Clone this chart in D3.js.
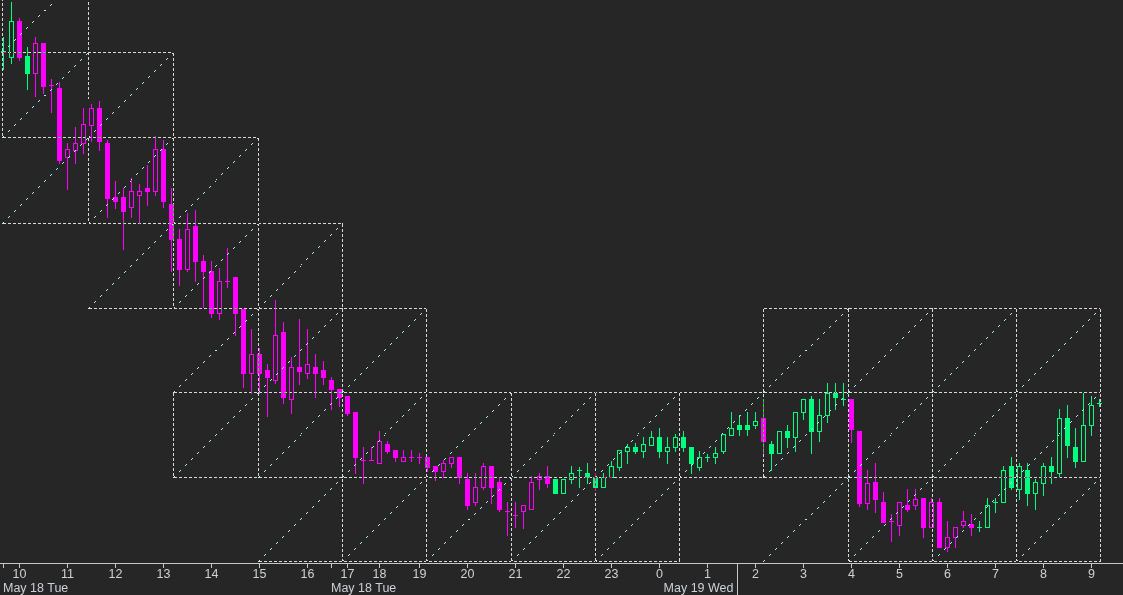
<!DOCTYPE html>
<html><head><meta charset="utf-8">
<script src="https://cdn.jsdelivr.net/npm/d3@7"></script>
<style>
html,body{margin:0;padding:0;background:#262626;}
svg{display:block;}
</style></head><body>
<svg id="chart" width="1123" height="595"></svg>
<script>
// ---------- DATA (10-minute bars, price in index points) ----------
const openP = [548,543,579,544,527,557,515,512,443,450,
457,475,492,457,403,403,393,405,412,409,
451,396,361,331,374,339,329,287,319,323,
291,227,246,230,220,268,201,233,227,233,
230,220,211,204,188,140,140,137,156,150,
139,143,143,143,134,129,137,143,121,98,
113,134,118,89,85,89,91,121,124,121,
107,121,130,127,123,113,123,133,149,153,
149,155,163,149,153,163,153,133,143,143,
149,165,175,175,175,182,156,147,169,163,
188,201,169,185,207,201,201,169,97,118,
98,79,75,95,95,102,73,98,53,63,
75,76,73,73,98,98,134,111,130,107,
117,134,127,182,153,139,175,197];
const highP = [563,598,582,553,563,557,521,518,457,473,
492,496,499,460,419,412,422,416,435,464,
460,412,371,387,390,345,339,332,352,323,
291,271,252,236,300,278,243,281,271,246,
239,223,211,204,188,153,153,169,159,150,
150,150,147,143,134,140,143,143,127,127,
137,134,123,98,98,95,124,127,134,121,
121,134,133,137,127,127,139,150,156,157,
163,169,172,163,166,169,153,149,146,153,
166,188,185,188,188,201,159,169,175,188,
201,204,201,217,217,217,201,169,130,137,
108,86,98,111,111,102,102,102,79,73,
89,86,79,102,102,134,143,137,137,121,
137,143,191,195,172,207,204,201];
const lowP = [531,537,540,511,504,507,488,437,411,437,
447,459,450,383,392,351,383,377,395,405,
393,329,315,329,319,293,283,281,313,265,
213,207,207,184,217,197,187,216,222,203,
216,191,194,185,127,117,140,137,147,139,
139,139,137,129,120,123,133,117,91,95,
111,97,89,65,73,72,91,111,113,107,
107,117,113,117,110,113,123,130,137,147,
143,155,143,137,149,149,127,130,139,137,
147,165,165,165,172,147,130,147,153,149,
181,147,159,178,191,195,158,94,91,88,
78,59,65,89,91,63,73,53,49,53,
73,65,69,73,88,98,111,101,95,91,
105,117,123,143,133,139,165,194];
const closeP = [549,579,543,527,557,514,515,440,451,457,
476,492,459,402,399,389,409,409,409,451,
399,361,331,371,339,329,287,319,319,287,
227,246,227,223,265,203,233,229,236,227,
223,211,203,187,143,140,140,159,149,143,
143,143,143,133,129,137,143,123,95,113,
134,113,91,89,85,95,118,124,117,107,
121,127,130,123,113,123,134,150,153,149,
156,163,149,153,163,153,137,143,143,147,
166,172,171,171,179,159,147,169,163,188,
201,169,185,207,203,201,171,97,117,101,
78,79,98,91,101,73,98,53,63,73,
79,73,73,95,98,130,113,134,107,118,
134,129,182,155,139,175,195,197];
// trend colouring runs: [firstBar, lastBar, direction]
const trendRuns = [[0,1,"up"],[2,2,"dn"],[3,3,"up"],[4,68,"dn"],[69,94,"up"],[95,95,"dn"],[96,105,"up"],[106,121,"dn"],[122,137,"up"]];

// time axis (bar index of each tick and its hour label)
const tickBars   = [0,2,8,14,20,26,32,38,41,43,47,52,58,64,70,76,82,88,94,100,106,112,118,124,130,136];
const tickLabels = ["","10","11","12","13","14","15","16","","17","18","19","20","21","22","23","0","1","2","3","4","5","6","7","8","9"];
const dateLabels = ["May 18 Tue","May 18 Tue","May 19 Wed"];
const dateBars   = [0,41,91.75];
const dateAlign  = ["start","start","end"];
const daySeparatorBar = 91.75;

// Gann box grid: time (bar) of each vertical, price of each level
const gridTimes  = [-0.125,10.625,21.25,31.875,42.375,52.875,63.5,74,84.5,95,105.625,116.125,126.625,137.125];
const gridLevels = [632.5,547.5,462.5,376.5,291.5,207.5,122.5,38.5];
// vertical runs: [timeIndex, fromPrice, toPrice]
const gridVRuns = [[0,632.5,462.5],[1,632.5,500],[1,462.5,376.5],[2,547.5,291.5],[2,207.5,122.5],[3,462.5,122.5],
  [4,376.5,38.5],[5,291.5,38.5],[6,207.5,38.5],[7,207.5,38.5],[8,207.5,38.5],[9,291.5,122.5],
  [10,291.5,38.5],[11,291.5,38.5],[12,291.5,38.5],[13,291.5,38.5]];
// horizontal runs: [levelIndex, fromTime, toTime]
const gridHRuns = [[1,0,2],[2,0,3],[3,0,4],[4,1,5],[4,9,13],[5,2,13],[6,2,13],[7,3,8],[7,10,13]];
// cells carrying a 45-degree line: [timeIndex, upperLevel]
const diagCells = [[0,0],[0,1],[1,1],[0,2],[1,2],[2,2],[1,3],[2,3],[3,3],
  [2,4],[3,4],[4,4],[9,4],[10,4],[11,4],[12,4],
  [2,5],[3,5],[4,5],[5,5],[6,5],[7,5],[8,5],[9,5],[10,5],[11,5],[12,5],
  [3,6],[4,6],[5,6],[6,6],[7,6],[9,6],[10,6],[11,6],[12,6]];

// ---------- DRAW ----------
const W = 1123, H = 595;
const BG = "#262626", MAG = "#ff00ff", GRN = "#00ff7f";
const FONT = "Liberation Sans, Arial, sans-serif";
const svg = d3.select("#chart");
svg.append("rect").attr("width", W).attr("height", H).attr("fill", BG);

const x = d3.scaleLinear().domain([0, 137]).range([3.5, 1099.5]);
const y = d3.scaleLinear().domain([600, 0]).range([0, 600]);

const bars = d3.range(openP.length).map(i => {
  const run = trendRuns.find(r => i >= r[0] && i <= r[1]);
  return {i, o: openP[i], h: highP[i], l: lowP[i], c: closeP[i], col: run && run[2] === "up" ? GRN : MAG};
});

const gC = svg.append("g").attr("shape-rendering", "crispEdges");
bars.forEach(b => {
  const cx = x(b.i);
  const yh = Math.round(y(b.h)), yl = Math.round(y(b.l));
  gC.append("line").attr("x1", cx).attr("x2", cx).attr("y1", yh).attr("y2", yl + 1)
    .attr("stroke", b.col).attr("stroke-width", 1);
  const top = Math.round(y(Math.max(b.o, b.c))), bot = Math.round(y(Math.min(b.o, b.c)));
  if (bot - top < 1) {
    gC.append("rect").attr("x", cx - 2.5).attr("y", top).attr("width", 5).attr("height", 1).attr("fill", b.col);
  } else if (b.c < b.o) {
    gC.append("rect").attr("x", cx - 2.5).attr("y", top).attr("width", 5).attr("height", bot - top + 1).attr("fill", b.col);
  } else {
    gC.append("rect").attr("x", cx - 2).attr("y", top + 0.5).attr("width", 4).attr("height", bot - top)
      .attr("fill", BG).attr("stroke", b.col).attr("stroke-width", 1);
  }
});

const px = t => Math.floor(x(t)) + 0.5;
const py = p => Math.floor(y(p)) + 0.5;

// diagonals (bottom-left to top-right of each cell), drawn as pixel dots
const gD = svg.append("g").attr("shape-rendering", "crispEdges");
diagCells.forEach(([c, r]) => {
  const X0 = Math.floor(x(gridTimes[c])), X1 = Math.floor(x(gridTimes[c + 1]));
  const Y0 = Math.floor(y(gridLevels[r + 1])), Y1 = Math.floor(y(gridLevels[r]));
  const n = X1 - X0;
  let d = "";
  for (let k = 0; k <= n; k++) {
    if (k % 6 > 1) continue;
    const yy = Math.round(Y0 - k * (Y0 - Y1) / n);
    if (yy < 0) continue;
    d += `M${X0 + k},${yy}h1v1h-1z`;
  }
  gD.append("path").attr("d", d).attr("fill", "#a6f4f4");
});

// dashed box lines, XOR-like over the candles
const gG = svg.append("g").style("mix-blend-mode", "difference").attr("shape-rendering", "crispEdges");
gridVRuns.forEach(([c, a, b]) => {
  gG.append("line").attr("x1", px(gridTimes[c])).attr("x2", px(gridTimes[c]))
    .attr("y1", py(a)).attr("y2", py(b))
    .attr("stroke", "#ffffff").attr("stroke-dasharray", "3,2");
});
gridHRuns.forEach(([r, a, b]) => {
  gG.append("line").attr("x1", px(gridTimes[a])).attr("x2", px(gridTimes[b]))
    .attr("y1", py(gridLevels[r])).attr("y2", py(gridLevels[r]))
    .attr("stroke", "#ffffff").attr("stroke-dasharray", "3,2");
});

// axis
const gA = svg.append("g");
gA.append("line").attr("x1", 0).attr("x2", W).attr("y1", 563.5).attr("y2", 563.5).attr("stroke", "#c8c8c8");
tickBars.forEach((b, k) => {
  const tx = x(b);
  gA.append("line").attr("x1", tx).attr("x2", tx).attr("y1", 563).attr("y2", 568).attr("stroke", "#c8c8c8");
  if (tickLabels[k]) gA.append("text").attr("x", tx).attr("y", 577.5).attr("text-anchor", "middle")
    .attr("font-family", FONT).attr("font-size", 12.5).attr("fill", "#cdd2d8").text(tickLabels[k]);
});
const sepX = Math.floor(x(daySeparatorBar)) + 0.5;
gA.append("line").attr("x1", sepX).attr("x2", sepX).attr("y1", 563).attr("y2", H).attr("stroke", "#c8c8c8");
dateLabels.forEach((d, k) => {
  const tx = dateAlign[k] === "end" ? x(dateBars[k]) - 4 : x(dateBars[k]) - 0.5;
  gA.append("text").attr("x", tx).attr("y", 591.5).attr("text-anchor", dateAlign[k])
    .attr("font-family", FONT).attr("font-size", 12.5).attr("fill", "#cdd2d8").text(d);
});
</script>
</body></html>
